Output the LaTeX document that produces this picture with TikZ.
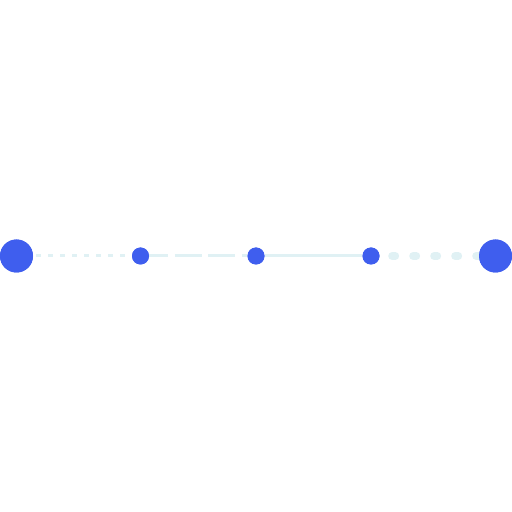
\documentclass[tikz,border=0pt]{standalone}
\definecolor{dotblue}{HTML}{3F5EEE}
\definecolor{linecol}{HTML}{E0F1F4}
\tikzset{
  bigdot/.style={circle,fill=dotblue,inner sep=0pt,minimum size=33pt},
  smalldot/.style={circle,fill=dotblue,inner sep=0pt,minimum size=17pt},
  link/.style={draw=linecol},
}
\begin{document}
\begin{tikzpicture}[x=1pt,y=1pt]
\useasboundingbox (0,0) rectangle (512,512);
\node[bigdot] (a) at (16.5,256) {};
\node[smalldot] (b) at (140.5,256) {};
\node[smalldot] (c) at (256,256) {};
\node[smalldot] (d) at (371,256) {};
\node[bigdot] (e) at (495.5,256) {};
\draw[link,line width=3pt,dash pattern=on 4.5pt off 7.5pt,dash phase=-3pt] (a.east) -- (b.west);
\draw[link,line width=3pt,dash pattern=on 27pt off 6.5pt,dash phase=8pt] (b.east) -- (c.west);
\draw[link,line width=3pt] (c.east) -- (d.west);
\draw[link,line width=8pt,line cap=round,dash pattern=on 3pt off 18pt,dash phase=-12.5pt] (d.east) -- (e.west);
\node[bigdot] at (a) {};
\node[smalldot] at (b) {};
\node[smalldot] at (c) {};
\node[smalldot] at (d) {};
\node[bigdot] at (e) {};
\end{tikzpicture}
\end{document}
